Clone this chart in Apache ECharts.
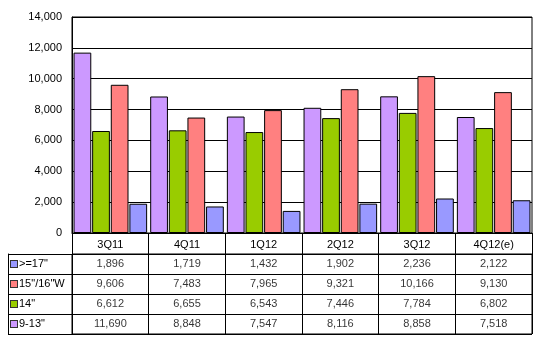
<!DOCTYPE html>
<html>
<head>
<meta charset="utf-8">
<script src="https://cdn.jsdelivr.net/npm/echarts@6/dist/echarts.min.js"></script>
<style>html,body{margin:0;padding:0;background:#fff}#c{width:538px;height:340px}</style>
</head>
<body>
<div id="c"></div>
<script>
const categories = ['3Q11', '4Q11', '1Q12', '2Q12', '3Q12', '4Q12(e)'];
const seriesNames = ['9-13"', '14"', '15"/16"W', '>=17"'];
const s913 = [11690, 8848, 7547, 8116, 8858, 7518];
const s14 = [6612, 6655, 6543, 7446, 7784, 6802];
const s1516 = [9606, 7483, 7965, 9321, 10166, 9130];
const s17 = [1896, 1719, 1432, 1902, 2236, 2122];
const tableRows = ['>=17"', '15"/16"W', '14"', '9-13"'];
const yTicks = [0, 2000, 4000, 6000, 8000, 10000, 12000, 14000];

const colors = {'9-13"': '#CC99FF', '14"': '#99CC00', '15"/16"W': '#FF8080', '>=17"': '#9999FF'};
const valuesByName = {'9-13"': s913, '14"': s14, '15"/16"W': s1516, '>=17"': s17};
const font = "'Liberation Sans', Arial, sans-serif";
const fmt = v => Number(v).toLocaleString('en-US');

const barSeries = seriesNames.map(n => ({
  name: n, type: 'bar', xAxisIndex: 0, yAxisIndex: 0,
  data: valuesByName[n],
  barCategoryGap: '4%', barGap: '5%',
  itemStyle: {color: colors[n], borderColor: '#000', borderWidth: 1}
}));

const cellData = [];
tableRows.forEach(r => {
  valuesByName[r].forEach((v, i) => cellData.push([categories[i], r, v]));
});

const rich = {t: {fontFamily: font, fontSize: 11, color: '#000', padding: [0, 0, 0, 2]}};
tableRows.forEach((r, i) => {
  rich['m' + i] = {width: 6, height: 6, backgroundColor: colors[r], borderColor: '#333', borderWidth: 1};
});

const chart = echarts.init(document.getElementById('c'), null, {renderer: 'canvas'});
chart.setOption({
  animation: false,
  backgroundColor: '#fff',
  grid: [
    {left: 72, right: 6, top: 17, height: 216, show: true, borderColor: '#000', borderWidth: 1, backgroundColor: 'transparent'},
    {left: 72, right: 6, top: 254, height: 80, show: true, borderColor: '#000', borderWidth: 1, backgroundColor: 'transparent'}
  ],
  xAxis: [
    {type: 'category', gridIndex: 0, data: categories, boundaryGap: true,
     axisLine: {show: true, lineStyle: {color: '#000', width: 1}},
     axisTick: {show: true, interval: 0, length: 21, lineStyle: {color: '#000'}},
     axisLabel: {interval: 0, margin: 6, fontFamily: font, fontSize: 11, color: '#000'},
     splitLine: {show: false}},
    {type: 'category', gridIndex: 1, data: categories, boundaryGap: true,
     axisLine: {show: false}, axisTick: {show: false}, axisLabel: {show: false},
     splitLine: {show: true, interval: 0, lineStyle: {color: '#000', width: 1}}}
  ],
  yAxis: [
    {type: 'value', gridIndex: 0, min: yTicks[0], max: yTicks[yTicks.length - 1], interval: 2000,
     axisLine: {show: true, lineStyle: {color: '#000'}},
     axisTick: {show: false},
     axisLabel: {margin: 10, fontFamily: font, fontSize: 11, color: '#000', formatter: v => fmt(v)},
     splitLine: {show: true, lineStyle: {color: '#000', width: 1}}},
    {type: 'category', gridIndex: 1, data: tableRows, inverse: true, boundaryGap: true,
     axisLine: {show: true, lineStyle: {color: '#000'}},
     axisTick: {show: true, interval: 0, length: 64, lineStyle: {color: '#000'}},
     axisLabel: {interval: 0, align: 'left', margin: 61,
       formatter: (v, i) => '{m' + tableRows.indexOf(v) + '|}{t|' + v + '}', rich: rich},
     splitLine: {show: true, interval: 0, lineStyle: {color: '#000', width: 1}}},
    {type: 'category', gridIndex: 1, data: tableRows, inverse: true, position: 'left', offset: 64,
     axisLine: {show: true, lineStyle: {color: '#000'}},
     axisTick: {show: false}, axisLabel: {show: false}, splitLine: {show: false}}
  ],
  series: barSeries.concat([{
    type: 'scatter', xAxisIndex: 1, yAxisIndex: 1, data: cellData,
    symbolSize: 0, itemStyle: {color: 'transparent'}, silent: true,
    label: {show: true, position: 'inside', fontFamily: font, fontSize: 11, color: '#000',
      formatter: p => fmt(p.value[2])}
  }])
});
</script>
</body>
</html>
